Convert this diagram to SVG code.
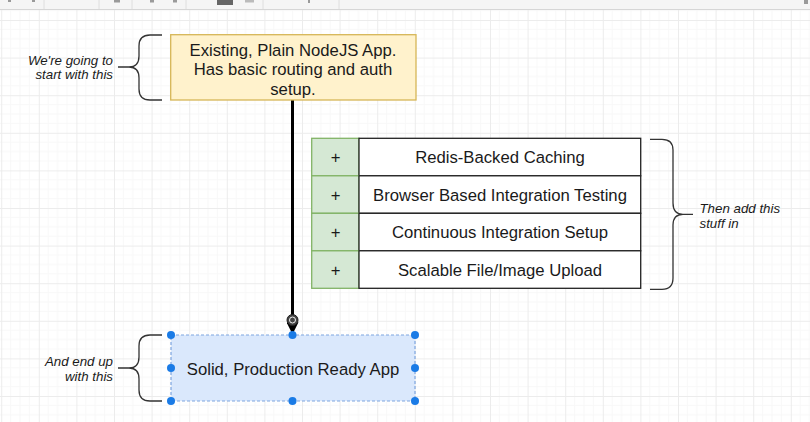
<svg xmlns="http://www.w3.org/2000/svg" width="810" height="422" viewBox="0 0 810 422">
  <style>
    .lbl{font-family:"Liberation Sans",Arial,sans-serif;font-size:16.7px;fill:#1a1a1a;text-anchor:middle}
    .note{font-family:"Liberation Sans",Arial,sans-serif;font-size:13.3px;font-style:italic;fill:#1a1a1a}
    .brace{fill:none;stroke:#333;stroke-width:1.3}
    .green{fill:#d5e8d4;stroke:#82b366;stroke-width:1.3}
    .white{fill:#fff;stroke:#222;stroke-width:1.3}
    .handle{fill:#1a7be6}
    .tb{fill:#9a9a9a}
  </style>
  <defs>
    <pattern id="grid" x="1.2" y="20" width="37.6" height="37.6" patternUnits="userSpaceOnUse">
      <path d="M9.4 0V37.6M18.8 0V37.6M28.2 0V37.6M0 9.4H37.6M0 18.8H37.6M0 28.2H37.6" stroke="#f8f8f8" stroke-width="1" fill="none"/>
      <path d="M0.5 0V37.6M0 0.5H37.6" stroke="#ececec" stroke-width="1" fill="none"/>
    </pattern>
    <marker id="arr" viewBox="0 0 10 10" refX="9" refY="5" markerWidth="4" markerHeight="4" orient="auto">
      <path d="M0,0 L10,5 L0,10 z" fill="#000"/>
    </marker>
  </defs>

  <rect width="810" height="422" fill="#fff"/>
  <rect x="0" y="9" width="810" height="413" fill="url(#grid)"/>

  <!-- toolbar strip -->
  <g id="toolbar">
    <rect x="0" y="0" width="810" height="9.5" fill="#f5f5f5"/>
    <line x1="0" y1="9.5" x2="810" y2="9.5" stroke="#d6d6d6" stroke-width="1"/>
    <path d="M44 0V9M99 0V9M132 0V9M186 0V9M263 0V9M339 0V9" stroke="#dedede" stroke-width="1"/>
    <rect class="tb" x="8" y="0" width="3" height="2"/>
    <rect class="tb" x="32" y="0" width="3" height="2"/>
    <rect class="tb" x="114" y="0" width="6" height="2.5"/>
    <rect class="tb" x="150" y="0" width="4" height="2.5"/>
    <rect class="tb" x="173" y="0" width="4" height="2.5"/>
    <rect x="217" y="0" width="16" height="5" fill="#666"/>
    <rect x="245" y="0" width="9" height="2.5" fill="#bbb"/>
    <rect class="tb" x="308" y="0" width="2" height="3"/>
    <rect class="tb" x="804" y="0" width="4" height="4"/>
  </g>

  <!-- connectors -->
  <g id="connectors">
    <line x1="292.5" y1="100" x2="292.5" y2="333" stroke="#000" stroke-width="3" marker-end="url(#arr)"/>
    <circle cx="292.5" cy="320" r="5.5" fill="#444" stroke="#222" stroke-width="1"/>
    <circle cx="292.5" cy="320" r="3" fill="none" stroke="#eee" stroke-width="1"/>
  </g>

  <!-- start node -->
  <g id="node-start">
    <rect x="170.7" y="34.7" width="245.3" height="65.3" fill="#fff2cc" stroke="#d6b656" stroke-width="1.3"/>
    <text class="lbl" x="293" y="55.5">Existing, Plain NodeJS App.</text>
    <text class="lbl" x="293" y="75">Has basic routing and auth</text>
    <text class="lbl" x="293" y="94.5">setup.</text>
  </g>

  <g id="brace-start">
    <path class="brace" d="M162 35H150Q139 35 139 46V56Q139 67 129 67H118M129 67Q139 67 139 78V89Q139 100 150 100H162"/>
    <text class="note" x="113" y="64.5" text-anchor="end">We're going to</text>
    <text class="note" x="113" y="79" text-anchor="end">start with this</text>
  </g>

  <!-- feature table -->
  <g id="features">
    <g id="row-1">
      <rect class="green" x="311.7" y="138.3" width="47.3" height="37.5"/>
      <rect class="white" x="359" y="138.3" width="281.7" height="37.5"/>
      <text class="lbl" x="335.5" y="163">+</text>
      <text class="lbl" x="500" y="163">Redis-Backed Caching</text>
    </g>
    <g id="row-2">
      <rect class="green" x="311.7" y="175.8" width="47.3" height="37.5"/>
      <rect class="white" x="359" y="175.8" width="281.7" height="37.5"/>
      <text class="lbl" x="335.5" y="200.5">+</text>
      <text class="lbl" x="500" y="200.5">Browser Based Integration Testing</text>
    </g>
    <g id="row-3">
      <rect class="green" x="311.7" y="213.3" width="47.3" height="37.5"/>
      <rect class="white" x="359" y="213.3" width="281.7" height="37.5"/>
      <text class="lbl" x="335.5" y="238">+</text>
      <text class="lbl" x="500" y="238">Continuous Integration Setup</text>
    </g>
    <g id="row-4">
      <rect class="green" x="311.7" y="250.8" width="47.3" height="37.5"/>
      <rect class="white" x="359" y="250.8" width="281.7" height="37.5"/>
      <text class="lbl" x="335.5" y="275.5">+</text>
      <text class="lbl" x="500" y="275.5">Scalable File/Image Upload</text>
    </g>
  </g>

  <g id="brace-features">
    <path class="brace" d="M650 139.3H662Q673 139.3 673 150V203Q673 214.3 683 214.3H693M683 214.3Q673 214.3 673 225V278Q673 289.3 662 289.3H650"/>
    <text class="note" x="699.5" y="212.7">Then add this</text>
    <text class="note" x="699.5" y="227.5">stuff in</text>
  </g>

  <!-- end node (selected) -->
  <g id="node-end">
    <rect x="171" y="335" width="244" height="66" fill="#dae8fc" stroke="#7ea6e0" stroke-width="1.2" stroke-dasharray="3 2"/>
    <text class="lbl" x="293" y="374.5">Solid, Production Ready App</text>
    <circle class="handle" cx="171" cy="335" r="4"/>
    <circle class="handle" cx="292.5" cy="335" r="4"/>
    <circle class="handle" cx="415" cy="335" r="4"/>
    <circle class="handle" cx="171" cy="368" r="4"/>
    <circle class="handle" cx="415" cy="368" r="4"/>
    <circle class="handle" cx="171" cy="401" r="4"/>
    <circle class="handle" cx="292.5" cy="401" r="4"/>
    <circle class="handle" cx="415" cy="401" r="4"/>
  </g>

  <g id="brace-end">
    <path class="brace" d="M162 335H150Q139 335 139 346V357Q139 368 129 368H118M129 368Q139 368 139 379V390Q139 401 150 401H162"/>
    <text class="note" x="113" y="366" text-anchor="end">And end up</text>
    <text class="note" x="113" y="381" text-anchor="end">with this</text>
  </g>
</svg>
